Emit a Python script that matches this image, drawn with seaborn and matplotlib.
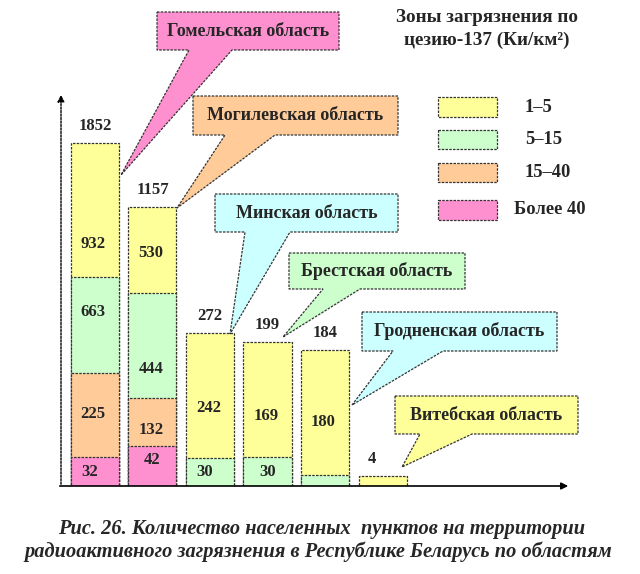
import matplotlib
matplotlib.use("Agg")
import matplotlib.pyplot as plt
from matplotlib.patches import Polygon, Rectangle
import numpy as np
import pandas as pd
import seaborn as sns

# ---------------- data ----------------
regions = ["Гомельская область", "Могилевская область", "Минская область",
           "Брестская область", "Гродненская область", "Витебская область"]
zones = ["1–5", "5–15", "15–40", "Более 40"]
totals = [1852, 1157, 272, 199, 184, 4]
zone_1_5 = [932, 530, 242, 169, 180, 4]
zone_5_15 = [663, 444, 30, 30, 4, 0]
zone_15_40 = [225, 132, 0, 0, 0, 0]
zone_40 = [32, 42, 0, 0, 0, 0]
# the original drawing is schematic (not to scale): segment heights as drawn
drawn_1_5 = [134, 86, 125, 115, 125, 10]
drawn_5_15 = [96, 105, 28, 29, 11, 0]
drawn_15_40 = [84, 48, 0, 0, 0, 0]
drawn_40 = [29, 40, 0, 0, 0, 0]
legend_title = ["Зоны загрязнения по", "цезию-137 (Ки/км²)"]
caption = ["Рис. 26. Количество населенных  пунктов на территории",
           "радиоактивного загрязнения в Республике Беларусь по областям"]

# ---------------- style ----------------
sns.set_style("white")
plt.rcParams["font.family"] = ["Liberation Serif", "DejaVu Serif"]
colors = {"1–5": "#ffff99", "5–15": "#ccffcc", "15–40": "#ffcc99", "Более 40": "#ff90d0"}
cyan = "#ccffff"
edge = "#333333"

W, H = 640, 574
fig = plt.figure(figsize=(W / 100, H / 100), dpi=100)
fig.patch.set_facecolor("white")

# bar axes (pixel geometry of original)
x0, x1, yb, yt = 61, 569, 486, 92
ax = fig.add_axes([x0 / W, (H - yb) / H, (x1 - x0) / W, (yb - yt) / H])
ax.set_facecolor("none")

layers = [drawn_40, drawn_15_40, drawn_5_15, drawn_1_5]
cum = np.cumsum(np.array(layers), axis=0)
df_rows = []
for zi, z in enumerate(zones[::-1]):
    for ri, r in enumerate(regions):
        df_rows.append({"region": r, "zone": z, "top": cum[zi, ri]})
df = pd.DataFrame(df_rows)

bw = 0.835
# draw from tallest cumulative (top layer) down to the bottom layer
for z in zones:
    sns.barplot(data=df[df["zone"] == z], x="region", y="top", order=regions,
                color=colors[z], saturation=1, width=bw, ax=ax,
                edgecolor=edge, linewidth=0.9, linestyle=(0, (2, 1)))
for p in ax.patches:
    if p.get_height() <= 0:
        p.set_visible(False)

ax.set_xlim(-0.591, 8.243)
ax.set_ylim(0, yb - yt)
ax.set_xlabel("")
ax.set_ylabel("")
ax.set_xticks([])
ax.set_yticks([])
for s in ax.spines.values():
    s.set_visible(False)

# value labels inside segments
label_frac = [[0.5, 0.51, 0.64, 0.25],
              [0.65, 0.33, 0.28, 0.47],
              [0.5, 0.5, 0.5, 0.4],
              [0.5, 0.5, 0.5, 0.36],
              [0.5, 0.5, 0.5, 0.42],
              [0.5, 0.5, 0.5, 0.5]]
values = [zone_40, zone_15_40, zone_5_15, zone_1_5]
lab_dx = [-0.1, 0, -0.1, 0, 0, 0]
for ri in range(len(regions)):
    base = 0
    for li in range(4):
        h = layers[li][ri]
        v = values[li][ri]
        if h > 0 and not (ri == 4 and li == 2) and ri != 5:
            ax.text(ri + (lab_dx[ri] if values[li][ri] < 100 else -0.03),
                    base + h * label_frac[ri][li], str(v),
                    ha="center", va="center", fontsize=12, fontweight="bold")
        base += h
    top = base
    ax.text(ri + (-0.18 if ri == 5 else 0.0), top + 17, str(totals[ri]),
            ha="center", va="center", fontsize=12, fontweight="bold")

# overlay in pixel coordinates for callouts / legend / caption
ov = fig.add_axes([0, 0, 1, 1])
ov.set_xlim(0, W)
ov.set_ylim(H, 0)
ov.axis("off")
ov.patch.set_alpha(0)

# axes arrows
ov.annotate("", xy=(61, 92), xytext=(61, 487),
            arrowprops=dict(arrowstyle="-|>", color="black", lw=1.0,
                            linestyle=(0, (1.5, 1)), mutation_scale=10))
ov.annotate("", xy=(571, 486), xytext=(57, 486),
            arrowprops=dict(arrowstyle="-|>", color="black", lw=1.2, mutation_scale=10))

callouts = [
    (157, 339, 12, 50, 189, 232, (121, 175), colors["Более 40"]),
    (193, 398, 96, 135, 225, 275, (177, 208), colors["15–40"]),
    (215, 398, 194, 232, 245, 290, (230, 334), cyan),
    (289, 465, 253, 289, 323, 360, (283, 337), colors["5–15"]),
    (362, 557, 312, 351, 393, 443, (352, 405), cyan),
    (395, 578, 396, 434, 420, 472, (402, 467), colors["1–5"]),
]
for (bx0, bx1, by0, by1, ta, tb, tip, col), name in zip(callouts, regions):
    pts = [(bx0, by0), (bx1, by0), (bx1, by1), (tb, by1), tip, (ta, by1), (bx0, by1)]
    ov.add_patch(Polygon(pts, closed=True, facecolor=col, edgecolor=edge,
                         lw=0.9, linestyle=(0, (2, 1)), zorder=3))
    ov.text((bx0 + bx1) / 2, (by0 + by1) / 2, name, ha="center", va="center",
            fontsize=13, fontweight="bold", zorder=4)

# legend
ov.text(487, 17, legend_title[0], ha="center", va="center", fontsize=13.8, fontweight="bold")
ov.text(487, 40, legend_title[1], ha="center", va="center", fontsize=13.8, fontweight="bold")
leg_y = [(97, 117), (130, 149), (163, 182), (200, 220)]
leg_tx = [525, 525, 525, 514]
for z, (y0, y1), tx in zip(zones, leg_y, leg_tx):
    ov.add_patch(Rectangle((438, y0), 59, y1 - y0, facecolor=colors[z],
                           edgecolor=edge, lw=0.9, linestyle=(0, (2, 1))))
    ov.text(tx, (y0 + y1) / 2, z, ha="left", va="center", fontsize=13.3, fontweight="bold")

# caption
ov.text(322, 529, caption[0], ha="center", va="center", fontsize=14.7,
        fontweight="bold", fontstyle="italic")
ov.text(318, 552, caption[1], ha="center", va="center", fontsize=14.7,
        fontweight="bold", fontstyle="italic")

fig.savefig("out.png", dpi=100)
